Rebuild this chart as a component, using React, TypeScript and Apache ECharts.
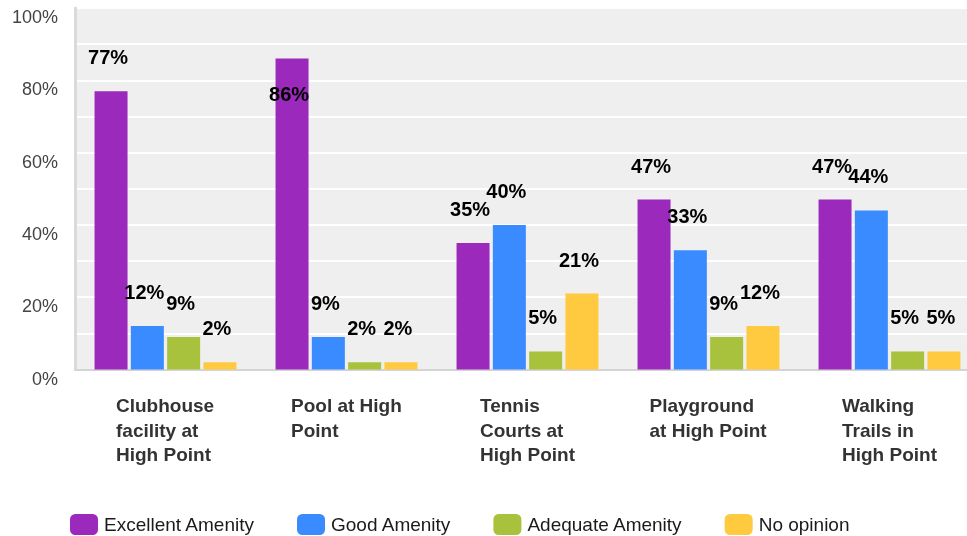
import React, { useEffect, useRef } from "react";
import * as echarts from "echarts";

const categories = [
  "Clubhouse\nfacility at\nHigh Point",
  "Pool at High\nPoint",
  "Tennis\nCourts at\nHigh Point",
  "Playground\nat High Point",
  "Walking\nTrails in\nHigh Point",
];
const seriesNames = ["Excellent Amenity", "Good Amenity", "Adequate Amenity", "No opinion"];
const excellent = [77, 86, 35, 47, 47];
const good = [12, 9, 40, 33, 44];
const adequate = [9, 2, 5, 9, 5];
const noOpinion = [2, 2, 21, 12, 5];
const yTicks = [0, 20, 40, 60, 80, 100];

const colors = ["#9b29bc", "#3a8bff", "#a8c23d", "#ffc940"];
const FONT = "'Liberation Sans', Arial, Helvetica, sans-serif";

function measure(text: string, font: string): number {
  const c = document.createElement("canvas").getContext("2d");
  if (!c) return text.length * 10;
  c.font = font;
  return c.measureText(text).width;
}

export default function App() {
  const ref = useRef<HTMLDivElement>(null);
  useEffect(() => {
    if (!ref.current) return;
    const chart = echarts.init(ref.current, null, { renderer: "svg" });
    const catFont = `bold 19px ${FONT}`;
    const rich: Record<string, any> = {};
    categories.forEach((c, i) => {
      const w = Math.max(...c.split("\n").map((l) => measure(l, catFont)));
      rich["c" + i] = {
        width: Math.ceil(w),
        align: "left",
        fontSize: 19,
        fontWeight: "bold",
        fontFamily: FONT,
        color: "#333",
        lineHeight: 24.5,
      };
    });
    const all = [excellent, good, adequate, noOpinion];
    const plotH = 361.5;
    const series = all.map((vals, si) => ({
      name: seriesNames[si],
      type: "bar",
      barWidth: 33,
      barGap: "10%",
      itemStyle: { color: colors[si] },
      data: vals.map((v) => {
        const inside = (v / 100) * plotH + 57 > plotH;
        return {
          value: v,
          label: inside
            ? { position: "insideTop", distance: 25 }
            : { position: "top", distance: 24 },
        };
      }),
      label: {
        show: true,
        formatter: "{c}%",
        fontSize: 20,
        lineHeight: 20,
        fontWeight: "bold",
        fontFamily: FONT,
        color: "#000",
        offset: [-3, 0],
      },
    }));
    chart.setOption({
      animation: false,
      textStyle: { fontFamily: FONT },
      grid: {
        left: 75,
        top: 8,
        width: 905,
        height: plotH,
        show: true,
        backgroundColor: "#efefef",
        borderWidth: 0,
        containLabel: false,
        outerBoundsMode: "none",
      },
      legend: {
        left: 70,
        top: 514,
        padding: 0,
        itemWidth: 28,
        itemHeight: 21,
        itemGap: 42,
        icon: "roundRect",
        textStyle: {
          fontSize: 19,
          color: "#1a1a1a",
          fontFamily: FONT,
          padding: [0, 0, 8, 1],
        },
        data: seriesNames,
      },
      xAxis: {
        type: "category",
        data: categories,
        axisLine: { show: true, lineStyle: { color: "#d4d4d4", width: 2 } },
        axisTick: { show: false },
        axisLabel: {
          interval: 0,
          margin: 24,
          formatter: (value: string, idx: number) =>
            value
              .split("\n")
              .map((l) => `{c${idx}|${l}}`)
              .join("\n"),
          rich,
        },
      },
      yAxis: {
        type: "value",
        min: 0,
        max: 100,
        interval: 10,
        axisLine: { show: true, lineStyle: { color: "#dadada", width: 3 } },
        axisTick: { show: false },
        splitLine: { show: true, lineStyle: { color: "#ffffff", width: 2 } },
        axisLabel: {
          margin: 17,
          fontSize: 18,
          lineHeight: 18,
          verticalAlign: "top",
          color: "#444",
          fontFamily: FONT,
          formatter: (v: number) => (yTicks.includes(v) ? v + "%" : ""),
        },
      },
      series,
    });
    return () => chart.dispose();
  }, []);
  return (
    <div
      ref={ref}
      style={{ position: "fixed", left: 0, top: 0, width: 967, height: 536 }}
    />
  );
}
